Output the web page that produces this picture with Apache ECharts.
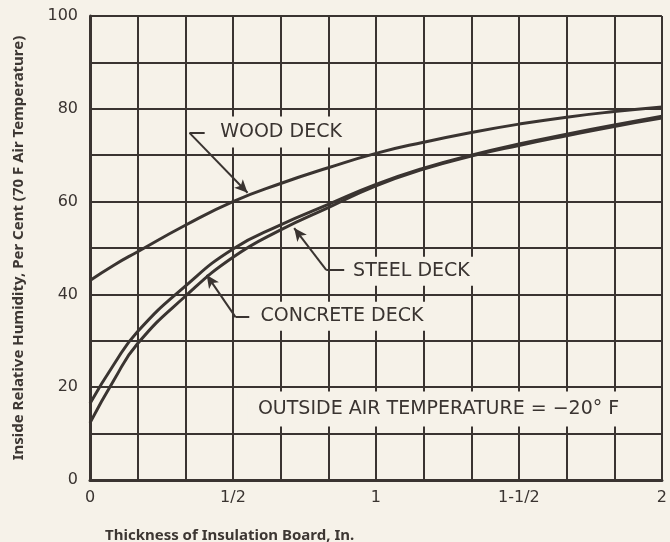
<!DOCTYPE html>
<html>
<head>
<meta charset="utf-8">
<script src="https://cdn.jsdelivr.net/npm/echarts@6/dist/echarts.min.js"></script>
<style>
  html, body { margin: 0; padding: 0; background: #f6f2e9; }
  #chart { width: 670px; height: 542px; }
</style>
</head>
<body>
<div id="chart"></div>
<script>
// Insulation board thickness, inches
const thickness = [0, 1/12, 1/6, 1/3, 1/2, 2/3, 5/6, 1, 7/6, 4/3, 3/2, 5/3, 11/6, 2];

// Inside relative humidity (%) at 70 F room air
const woodDeck     = [43.0, 46.3, 49.2, 54.9, 60.0, 63.9, 67.3, 70.4, 72.8, 74.9, 76.7, 78.2, 79.4, 80.4];
const steelDeck    = [16.5, 24.9, 32.0, 41.8, 49.8, 55.0, 59.4, 63.7, 67.2, 70.0, 72.4, 74.5, 76.5, 78.4];
const concreteDeck = [12.3, 21.5, 29.4, 39.6, 48.0, 53.9, 58.7, 63.4, 67.0, 69.8, 72.1, 74.2, 76.2, 78.0];

// Tick labels: x every 1/6 in., y every 10 %
const xTickLabels = ['0', '', '', '1/2', '', '', '1', '', '', '1-1/2', '', '', '2'];
const yTickLabels = ['0', '', '20', '', '40', '', '60', '', '80', '', '100'];

// Callout text anchors and leader lines, in data units (inches, %)
const woodNote     = { text: 'WOOD DECK',     at: [0.668, 75.0] };
const steelNote    = { text: 'STEEL DECK',    at: [1.124, 45.0] };
const concreteNote = { text: 'CONCRETE DECK', at: [0.881, 35.3] };
const tempNote     = { text: 'OUTSIDE AIR TEMPERATURE = \u221220\u00b0 F', at: [1.219, 15.3] };

const woodLeader     = [[0.401, 74.8], [0.348, 74.8], [0.551, 61.9]];
const steelLeader    = [[0.889, 45.3], [0.826, 45.3], [0.714, 54.3]];
const concreteLeader = [[0.557, 35.1], [0.509, 35.1], [0.408, 44.2]];

const INK = '#3a3431';
const PAPER = '#f6f2e9';
const LETTERING = 'DejaVu Sans';
const CAPTION = { fontFamily: 'Noto Sans', fontSize: 15, fontWeight: 'bold', color: '#3d3733' };

function pairs(ys) {
  return thickness.map((x, i) => [x, ys[i]]);
}

function leader(pts) {
  return [
    [{ coord: pts[0], symbol: 'none' }, { coord: pts[1], symbol: 'none' }],
    [{ coord: pts[1], symbol: 'none' }, { coord: pts[2], symbol: 'arrow', symbolSize: [9, 13] }]
  ];
}

function note(n, size, pad) {
  return {
    coord: n.at,
    symbol: 'rect',
    symbolSize: 1,
    itemStyle: { color: 'rgba(0,0,0,0)' },
    label: {
      show: true,
      position: 'inside',
      formatter: n.text,
      color: INK,
      fontFamily: LETTERING,
      fontSize: size,
      backgroundColor: PAPER,
      padding: pad
    }
  };
}

function curve(name, ys, lines, notes) {
  return {
    name: name,
    type: 'line',
    data: pairs(ys),
    smooth: 0.5,
    showSymbol: false,
    silent: true,
    lineStyle: { color: INK, width: 3 },
    markLine: {
      silent: true,
      animation: false,
      label: { show: false },
      lineStyle: { color: INK, width: 2, type: 'solid' },
      emphasis: { disabled: true },
      data: lines
    },
    markPoint: {
      silent: true,
      animation: false,
      data: notes
    }
  };
}

const chart = echarts.init(document.getElementById('chart'), null, { renderer: 'canvas' });

chart.setOption({
  backgroundColor: PAPER,
  animation: false,
  title: {
    text: 'Thickness of Insulation Board, In.',
    left: 100,
    top: 523,
    textStyle: CAPTION
  },
  grid: { left: 90, right: 6, top: 16, bottom: 62, containLabel: false },
  xAxis: {
    type: 'value',
    min: 0,
    max: 2,
    interval: 1 / 6,
    axisLine: { show: true, lineStyle: { color: INK, width: 3 } },
    axisTick: { show: false },
    splitLine: { show: true, lineStyle: { color: INK, width: 2 } },
    axisLabel: {
      margin: 10,
      color: INK,
      fontFamily: LETTERING,
      fontSize: 16,
      formatter: v => xTickLabels[Math.round(v * 6)] || ''
    }
  },
  yAxis: {
    type: 'value',
    min: 0,
    max: 100,
    interval: 10,
    name: 'Inside Relative Humidity, Per Cent (70 F Air Temperature)',
    nameLocation: 'middle',
    nameGap: 64,
    nameTextStyle: CAPTION,
    axisLine: { show: true, lineStyle: { color: INK, width: 3 } },
    axisTick: { show: false },
    splitLine: { show: true, lineStyle: { color: INK, width: 2 } },
    axisLabel: {
      margin: 12,
      color: INK,
      fontFamily: LETTERING,
      fontSize: 16,
      formatter: v => yTickLabels[Math.round(v / 10)] || ''
    }
  },
  series: [
    curve('Wood Deck', woodDeck, leader(woodLeader), [note(woodNote, 19, [6, 6])]),
    curve('Steel Deck', steelDeck, leader(steelLeader), [note(steelNote, 19, [5, 5])]),
    curve('Concrete Deck', concreteDeck, leader(concreteLeader), [note(concreteNote, 19, [5, 5]), note(tempNote, 19, [8, 10])])
  ]
});
</script>
</body>
</html>
